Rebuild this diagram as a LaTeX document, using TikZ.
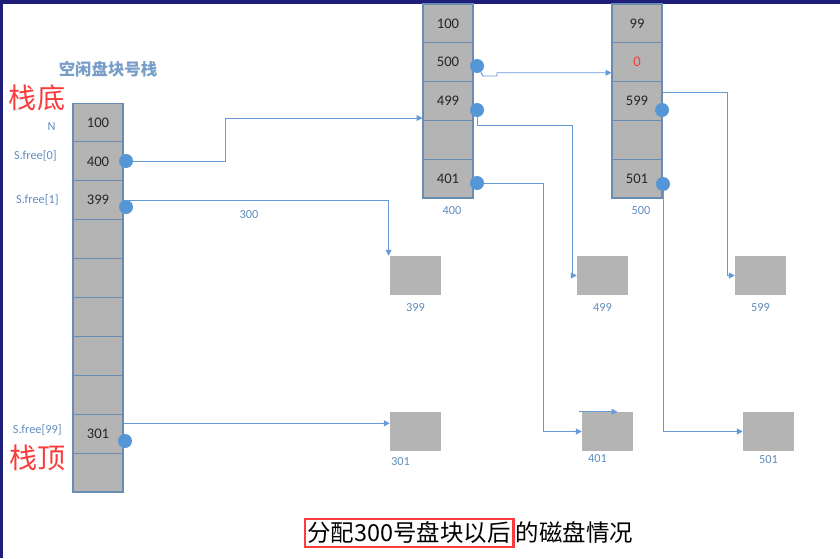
\documentclass[tikz,border=0pt]{standalone}
\usepackage{fontspec}
\setmainfont{Carlito}
\newfontfamily\cjk{Noto Sans CJK SC}
\usetikzlibrary{arrows.meta,positioning}
\definecolor{cellgray}{RGB}{180,180,180}
\definecolor{cellline}{RGB}{105,140,180}
\definecolor{linkblue}{RGB}{100,155,215}
\definecolor{dotblue}{RGB}{85,150,215}
\definecolor{labelblue}{RGB}{95,140,190}
\definecolor{markred}{RGB}{250,60,60}
\definecolor{framenavy}{RGB}{30,30,120}
\tikzset{
  cell/.style={draw=cellline, line width=0.9pt, fill=cellgray, minimum width=1.5cm,
    minimum height=1.165cm, inner sep=0pt, font=\fontsize{12.5}{14}\selectfont, text=black!85},
  block/.style={fill=cellgray, minimum width=1.53cm, minimum height=1.17cm, inner sep=0pt},
  dot/.style={circle, fill=dotblue, minimum size=0.42cm, inner sep=0pt},
  tag/.style={text=labelblue, font=\fontsize{10.5}{12}\selectfont, inner sep=1pt},
  redtag/.style={text=markred, font=\cjk\fontsize{24}{27}\selectfont, inner sep=0pt},
  link/.style={draw=linkblue, line width=0.8pt},
}

\begin{document}
\begin{tikzpicture}[x=0.03cm, y=-0.03cm, >={Triangle[width=5pt,length=5pt]}]
            \useasboundingbox (0,0) rectangle (840,558);
            \fill[framenavy] (0,0) rectangle (840,4);
            \fill[framenavy] (0,0) rectangle (3,558);
            \begin{scope}
              \node[text=labelblue!85, font=\cjk\bfseries\fontsize{14}{16}\selectfont] (stackname) at (108,69) {空闲盘块号栈};
              \node[redtag] (stackbottom) at (37,98) {栈底};
              \node[redtag] (stacktop) at (38,458) {栈顶};
              \foreach \i/\t in {0/100,1/400,2/399,3/{},4/{},5/{},6/{},7/{},8/301,9/{}}
                \node[cell] (s\i) at (98,{103+38.9*(\i+0.5)}) {\t};
              \node[tag, anchor=east] (lN) at (57,127) {N};
              \node[tag, anchor=east] (lfree0) at (58,156) {S.free[0]};
              \node[tag, anchor=east] (lfree1) at (60,200) {S.free[1]};
              \node[tag, anchor=east] (lfree99) at (63,430) {S.free[99]};
              \node[dot] (ds1) at (126,161) {};
              \node[dot] (ds2) at (126,207) {};
              \node[dot] (ds8) at (125,441) {};
            \end{scope}
            \begin{scope}
              \foreach \i/\t in {0/100,1/500,2/499,3/{},4/401}
                \node[cell] (a\i) at (448,{4+38.8*(\i+0.5)}) {\t};
              \foreach \i/\t in {0/99,1/{\textcolor{markred}{0}},2/599,3/{},4/501}
                \node[cell] (b\i) at (637,{4+38.8*(\i+0.5)}) {\t};
              \node[tag] (na) at (452,211) {400};
              \node[tag] (nb) at (641,211) {500};
              \node[dot] (da1) at (477,66) {};
              \node[dot] (da2) at (477,110) {};
              \node[dot] (da4) at (477,183) {};
              \node[dot] (db2) at (662,110) {};
              \node[dot] (db4) at (663,184) {};
            \end{scope}
            \begin{scope}
              \node[block] (k399) at (415.5,275.5) {};
              \node[block] (k499) at (602.5,275.5) {};
              \node[block] (k599) at (760.5,275.5) {};
              \node[block] (k301) at (415.5,431.5) {};
              \node[block] (k401) at (607.5,431.5) {};
              \node[block] (k501) at (768.5,431.5) {};
              \node[tag, below=0.22cm of k399] (n399) {399};
              \node[tag, below=0.22cm of k499] (n499) {499};
              \node[tag, below=0.22cm of k599] (n599) {599};
              \node[tag, below right=0.16cm and 0cm of k301.south west] (n301) {301};
              \node[tag, below=0.07cm of k401, xshift=-8.5pt] (n401) {401};
              \node[tag, below=0.1cm of k501] (n501) {501};
              \node[tag] (l300) at (249,215) {300};
            \end{scope}
            \begin{scope}[link, ->]
              \draw (ds1) -- ++(99,0) |- ([yshift=2.5pt]a2.south west);
              \draw (s2.east) -| ([xshift=-1pt]k399.north west);
              \coordinate (p301) at ([yshift=7pt]k301.west);
              \draw (p301 -| s8.east) -- (p301);
              \draw (da1) -- ++(6,10) -- ++(14,0) |- ([yshift=-9pt]b1.west);
              \draw (da2) |- ++(95,15) |- (k499.west);
              \draw (da4) -- ++(66,0) |- (k401.west);
              \draw ([xshift=-2.5pt]k401.north west) -- ([xshift=-13.5pt]k401.north east);
              \draw ([yshift=7.5pt]b2.east) -- ++(65,0) |- (k599.west);
              \draw (db4) |- (k501.west);
            \end{scope}
            \node[draw=markred, line width=1.8pt, inner sep=2.5pt, font=\cjk\fontsize{20}{24}\selectfont] (cap1) at (409,533) {分配300号盘块以后};
            \node[anchor=base west, inner sep=0pt, font=\cjk\fontsize{20}{24}\selectfont] (cap2) at ([xshift=1pt]cap1.base east) {的磁盘情况};
          \end{tikzpicture}
\end{document}
